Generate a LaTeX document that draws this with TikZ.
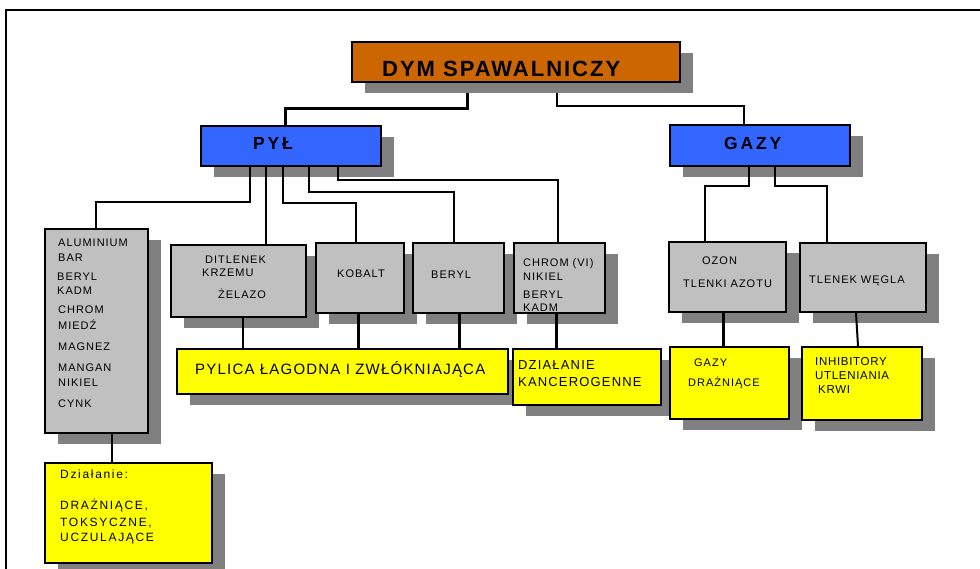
\documentclass[tikz,border=0pt]{standalone}
\usepackage{fontspec}
\setmainfont{Liberation Sans}
\usetikzlibrary{shadows}
\definecolor{orng}{HTML}{CC6600}
\definecolor{blu}{HTML}{3366FF}
\definecolor{gry}{HTML}{C0C0C0}
\definecolor{shd}{HTML}{808080}
\definecolor{ylw}{HTML}{FFFF00}
\pgfdeclarelayer{bg}
\pgfsetlayers{bg,main}
\begin{document}
\begin{tikzpicture}[x=1pt,y=-1pt,
  box/.style={draw=black, line width=2pt, rectangle, inner sep=0pt,
    copy shadow={shadow xshift=13pt, shadow yshift=-11pt, fill=shd, draw=none}},
  gbox/.style={box, fill=gry},
  ybox/.style={box, fill=ylw},
  conn/.style={draw=black, line width=2.5pt},
  txt/.style={inner sep=0pt, anchor=base west, text=black},
  big/.style={txt, font=\fontsize{22}{26}\selectfont\bfseries\addfontfeature{LetterSpace=9}},
  mid/.style={txt, font=\fontsize{17.5}{21}\selectfont\bfseries\addfontfeature{LetterSpace=16}},
  sm/.style={txt, font=\fontsize{11}{13}\selectfont\addfontfeature{LetterSpace=9}},
  pyt/.style={txt, font=\fontsize{15}{17}\selectfont\addfontfeature{LetterSpace=8}},
  dzt/.style={txt, font=\fontsize{13}{15}\selectfont\addfontfeature{LetterSpace=9}},
  inh/.style={txt, font=\fontsize{11.5}{13}\selectfont\addfontfeature{LetterSpace=6}},
  dzl/.style={txt, font=\fontsize{12}{14}\selectfont\addfontfeature{LetterSpace=14}}]
\useasboundingbox (0,0) rectangle (980,568);
% outer frame
\draw[line width=2pt] (6,10) rectangle (990,580);

% boxes (left to right, top to bottom)
\node[box, fill=orng, minimum width=328pt, minimum height=40pt] (dym) at (516,62) {};
\node[box, fill=blu, minimum width=180pt, minimum height=40pt] (pyl) at (291,146) {};
\node[box, fill=blu, minimum width=180pt, minimum height=41pt] (gazy) at (760,145.5) {};
\node[gbox, minimum width=103pt, minimum height=204pt] (lewa) at (96.5,331) {};
\node[gbox, minimum width=135pt, minimum height=72pt] (dit) at (238.5,281) {};
\node[gbox, minimum width=88pt, minimum height=70pt] (kob) at (360,278) {};
\node[gbox, minimum width=91pt, minimum height=70pt] (ber) at (458.5,278) {};
\node[gbox, minimum width=91pt, minimum height=70pt] (chr) at (559.5,278) {};
\node[gbox, minimum width=117pt, minimum height=70pt] (ozon) at (727.5,277) {};
\node[gbox, minimum width=126pt, minimum height=69pt] (tlw) at (863,277.5) {};
\node[ybox, minimum width=331pt, minimum height=45pt] (pylica) at (342.5,371.5) {};
\node[ybox, minimum width=148pt, minimum height=56pt] (dzk) at (587,377) {};
\node[ybox, minimum width=119pt, minimum height=72pt] (gazd) at (729.5,383) {};
\node[ybox, minimum width=120pt, minimum height=73pt] (inhb) at (862,383.5) {};
\node[ybox, minimum width=167pt, minimum height=100pt] (dzl) at (128.5,513) {};

% texts
\node[big] (t0) at (382,76) {DYM SPAWALNICZY};
\node[mid] (t1) at (253,149.3) {PYŁ};
\node[mid] (t2) at (724,149.3) {GAZY};

\node[sm] (l1) at (58,246) {ALUMINIUM};
\node[sm] (l2) at (58,261) {BAR};
\node[sm] (l3) at (57,280) {BERYL};
\node[sm] (l4) at (57,294) {KADM};
\node[sm] (l5) at (58,313) {CHROM};
\node[sm] (l6) at (58,329) {MIEDŹ};
\node[sm] (l7) at (58,350) {MAGNEZ};
\node[sm] (l8) at (58,371) {MANGAN};
\node[sm] (l9) at (58,386) {NIKIEL};
\node[sm] (l10) at (58,407) {CYNK};

\node[sm] (d1) at (205,263) {DITLENEK};
\node[sm] (d2) at (202,276) {KRZEMU};
\node[sm] (d3) at (218,298) {ŻELAZO};
\node[sm] (k1) at (337,277) {KOBALT};
\node[sm] (b1) at (431,278) {BERYL};
\node[sm] (c1) at (523,266) {CHROM (VI)};
\node[sm] (c2) at (523,280) {NIKIEL};
\node[sm] (c3) at (523,298) {BERYL};
\node[sm] (c4) at (523,311) {KADM};
\node[sm] (o1) at (702,264) {OZON};
\node[sm] (o2) at (683,287) {TLENKI AZOTU};
\node[sm] (w1) at (809,283) {TLENEK WĘGLA};

\node[pyt] (p1) at (195,374.4) {PYLICA ŁAGODNA I ZWŁÓKNIAJĄCA};
\node[dzt] (z1) at (518,369.6) {DZIAŁANIE};
\node[dzt] (z2) at (518,386.6) {KANCEROGENNE};
\node[sm] (g1) at (694,366) {GAZY};
\node[sm] (g2) at (688,386) {DRAŻNIĄCE};
\node[inh] (i1) at (815,365.1) {INHIBITORY};
\node[inh] (i2) at (815,379.1) {UTLENIANIA};
\node[inh] (i3) at (818,393.1) {KRWI};
\node[dzl] (a1) at (60,478.3) {Działanie:};
\node[dzl] (a2) at (60,509.3) {DRAŻNIĄCE,};
\node[dzl] (a3) at (60,526.3) {TOKSYCZNE,};
\node[dzl] (a4) at (60,541.3) {UCZULAJĄCE};

% connectors from the top box (under its shadow)
\begin{pgfonlayer}{bg}
\draw[conn, line width=3pt] (dym.south -| 467,0) -- (467,108) -| (pyl.north -| 285,0);
\draw[conn, line width=2.5pt] (dym.south -| 557,0) -- (557,106) -| (gazy.north -| 744,0);
\end{pgfonlayer}

% other connectors
\draw[conn] (pyl.south -| 250,0) -- (250,202) -| (lewa.north -| 96,0);
\draw[conn, line width=2pt] (pyl.south -| 266,0) -- (dit.north -| 266,0);
\draw[conn] (pyl.south -| 283,0) -- (283,203) -| (kob.north -| 356,0);
\draw[conn] (pyl.south -| 309,0) -- (309,192) -| (ber.north -| 454,0);
\draw[conn] (pyl.south -| 338,0) -- (338,180) -| (chr.north -| 558,0);
\draw[conn] (gazy.south -| 749,0) -- (749,186) -| (ozon.north -| 705,0);
\draw[conn] (gazy.south -| 775,0) -- (775,186) -| (tlw.north -| 827,0);
\draw[conn, line width=2pt] (lewa.south -| 112,0) -- (dzl.north -| 112,0);
\draw[conn, line width=1.6pt] (dit.south -| 243,0) -- (pylica.north -| 243,0);
\draw[conn, line width=3pt] (kob.south -| 358,0) -- (pylica.north -| 358,0);
\draw[conn, line width=3pt] (ber.south -| 459,0) -- (pylica.north -| 459,0);
\draw[conn, line width=3pt] (chr.south -| 556,0) -- (dzk.north -| 556,0);
\draw[conn, line width=3pt] (ozon.south -| 723,0) -- (gazd.north -| 723,0);
\draw[conn, line width=2pt] (tlw.south -| 856,0) -- (inhb.north -| 858,0);
\end{tikzpicture}
\end{document}
